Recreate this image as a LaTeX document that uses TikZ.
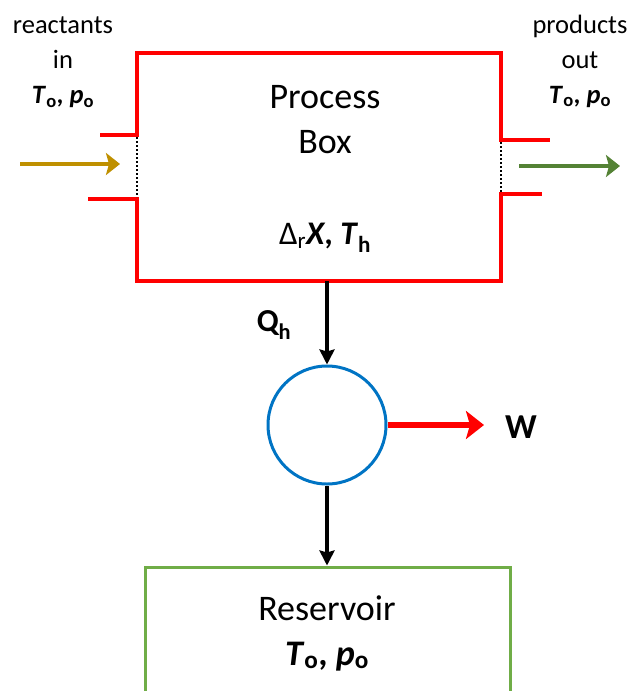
\documentclass[tikz,border=0pt]{standalone}
\usepackage{fontspec}
\setmainfont{Carlito}
\usetikzlibrary{arrows.meta}
\definecolor{boxred}{RGB}{255,0,0}
\definecolor{goldarrow}{RGB}{191,144,0}
\definecolor{greenarrow}{RGB}{84,130,53}
\definecolor{engblue}{RGB}{0,116,196}
\definecolor{resgreen}{RGB}{112,173,71}
\newcommand{\lowsub}[1]{\textsubscript{\upshape #1}}
\newcommand{\TpO}{\textbf{\textit{T}\lowsub{o}, \textit{p}\lowsub{o}}}
\tikzset{
  redwall/.style={draw=boxred, line width=4.5pt, line cap=butt, line join=miter},
  port/.style={draw=black, line width=2.4pt, dash pattern=on 2pt off 2pt},
  smalllabel/.style={align=center, font=\fontsize{26.5}{35}\selectfont, inner sep=0pt},
  biglabel/.style={align=center, font=\fontsize{36}{45}\selectfont, inner sep=0pt},
  heatarrow/.style={draw=black, line width=4pt, -{Stealth[length=15pt,width=15pt,inset=2pt]}},
  flowarrow/.style={line width=4pt, -{Stealth[length=14pt,width=22pt,inset=3pt]}},
  workarrow/.style={draw=boxred, line width=5.5pt, -{Stealth[length=18pt,width=28pt,inset=4pt]}},
}
\begin{document}
\begin{tikzpicture}[x=1pt,y=-1pt]
\useasboundingbox (0,0) rectangle (632,691);
\clip (0,0) rectangle (632,691);
% process box (area) and outline
\node[minimum width=364pt, minimum height=228pt, inner sep=0pt] (pb) at (319,167) {};
\draw[redwall] (100,135) -- (137,135) -- (137,53) -- (501,53) -- (501,140) -- (550,140);
\draw[redwall] (88,199) -- (137,199) -- (137,281) -- (501,281) -- (501,194) -- (542,194);
\draw[port] (137,137) -- (137,197);
\draw[port] (501,142) -- (501,192);
\node[biglabel] (ptext) at (325,120) {Process\\Box};
\node[inner sep=0pt, font=\fontsize{33}{38}\selectfont] (dx) at (325,238) {Δ\lowsub{r}\textbf{\textit{X}, \textit{T}\lowsub{h}}};
% in / out flows
\coordinate (inA) at (20,164);
\coordinate (inB) at (120,164);
\coordinate (outA) at (519,166);
\coordinate (outB) at (620,166);
\draw[flowarrow, draw=goldarrow] (inA) -- (inB);
\draw[flowarrow, draw=greenarrow] (outA) -- (outB);
\node[smalllabel] (rin) at (63,62) {reactants\\in\\\TpO};
\node[smalllabel] (pout) at (580,61) {products\\out\\\TpO};
% engine
\node[circle, draw=engblue, line width=3pt, minimum size=118pt, inner sep=0pt] (eng) at (327,425) {};
\draw[heatarrow] (eng.north |- pb.south) -- (eng.north);
\node[inner sep=0pt, font=\fontsize{32}{36}\selectfont\bfseries] (qh) at (274,325) {Q\lowsub{h}};
% work
\coordinate (wtip) at (484,425);
\node[inner sep=0pt, font=\fontsize{35}{38}\selectfont\bfseries] (w) at (521,427) {W};
\draw[workarrow] (eng.east) -- (wtip);
% reservoir
\node[draw=resgreen, line width=3pt, minimum width=365pt, minimum height=160pt, inner sep=0pt] (res) at (327.5,647) {};
\draw[heatarrow] (eng.south) -- (eng.south |- res.north);
\node[biglabel] (restext) at (327,633) {Reservoir\\\TpO};
\end{tikzpicture}
\end{document}
